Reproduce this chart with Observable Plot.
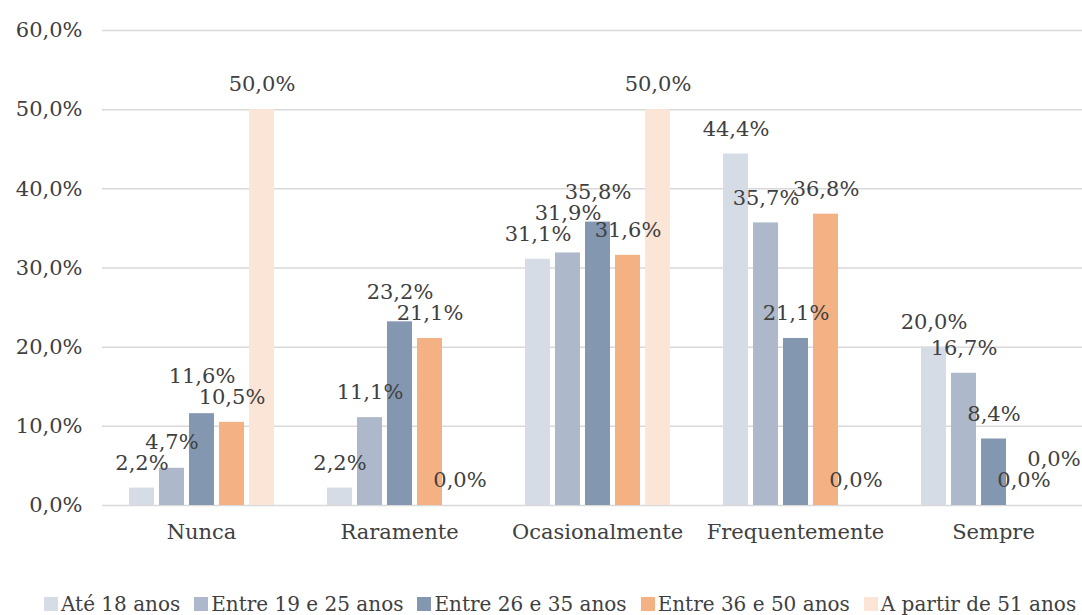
<!DOCTYPE html>
<html>
<head>
<meta charset="utf-8">
<script src="https://cdn.jsdelivr.net/npm/d3@7"></script>
<script src="https://cdn.jsdelivr.net/npm/@observablehq/plot@0.6"></script>
<style>
  html, body { margin: 0; padding: 0; background: #fff; width: 1082px; height: 615px; overflow: hidden; }
  #chart svg { display: block; overflow: hidden; }
  #legend {
    display: flex; align-items: center; white-space: nowrap;
    font-family: "DejaVu Serif", serif; font-size: 20px; color: #404040;
    padding-left: 44px; margin-top: 8px; height: 26px;
  }
  #legend .item { display: flex; align-items: center; margin-right: 14px; }
  #legend .sw { width: 14px; height: 14px; margin-right: 3px; flex: none; }
</style>
</head>
<body>
<div id="chart"></div>
<div id="legend"></div>
<script>
const categories = ["Nunca", "Raramente", "Ocasionalmente", "Frequentemente", "Sempre"];
const series = ["Até 18 anos", "Entre 19 e 25 anos", "Entre 26 e 35 anos", "Entre 36 e 50 anos", "A partir de 51 anos"];
const ate18 = [2.2, 2.2, 31.1, 44.4, 20.0];
const entre19e25 = [4.7, 11.1, 31.9, 35.7, 16.7];
const entre26e35 = [11.6, 23.2, 35.8, 21.1, 8.4];
const entre36e50 = [10.5, 21.1, 31.6, 36.8, 0.0];
const aPartir51 = [50.0, 0.0, 50.0, 0.0, 0.0];
const yTicks = [0, 10, 20, 30, 40, 50, 60];
const colors = ["#d6dce5", "#adb9ca", "#8497b0", "#f4b183", "#fbe5d6"];

const W = 1082, H = 583, MT = 30, MB = 78, FS = 21;
const pxPerUnit = (H - MT - MB) / 60;
const labelGap = 21 / pxPerUnit; // minimal vertical spacing between neighbouring labels (data units)

const seriesValues = [ate18, entre19e25, entre26e35, entre36e50, aPartir51];
const data = [];
categories.forEach((c, ci) => {
  const group = series.map((s, si) => ({category: c, series: s, value: seriesValues[si][ci]}));
  group.forEach(d => d.labelY = d.value);
  // simple collision avoidance between neighbouring labels: lift the taller one
  for (let i = 0; i < group.length - 1; i++) {
    const a = group[i], b = group[i + 1];
    if (Math.abs(a.labelY - b.labelY) < labelGap) {
      if (b.value >= a.value) b.labelY = a.labelY + labelGap;
      else a.labelY = b.labelY + labelGap;
    }
  }
  data.push(...group);
});
const fmt = d => d.toFixed(1).replace(".", ",") + "%";
const font = "DejaVu Serif, serif";

const chart = Plot.plot({
  width: W,
  height: H,
  marginLeft: 100,
  marginRight: 0,
  marginTop: MT,
  marginBottom: MB,
  style: {fontFamily: font, fontSize: FS + "px", color: "#404040", background: "#fff"},
  fx: {domain: categories, range: [100, 1094], paddingInner: 0, paddingOuter: 0, axis: "bottom", label: null, tickSize: 0, tickPadding: 19},
  x: {domain: series, paddingInner: 0.18, paddingOuter: 0.85, axis: null},
  y: {domain: [0, 60], ticks: yTicks, tickFormat: fmt, tickSize: 0, tickPadding: 20, label: null},
  color: {domain: series, range: colors},
  marks: [
    Plot.ruleY(yTicks, {y: d => d, stroke: "#d9d9d9", strokeWidth: 1.5}),
    Plot.barY(data, {fx: "category", x: "series", y: "value", fill: "series"}),
    Plot.text(data, {fx: "category", x: "series", y: "labelY", text: d => fmt(d.value), dy: -25, fill: "#404040", fontSize: FS})
  ]
});
document.getElementById("chart").appendChild(chart);

const legend = d3.select("#legend");
series.forEach((s, i) => {
  const item = legend.append("div").attr("class", "item");
  item.append("div").attr("class", "sw").style("background", colors[i]);
  item.append("span").text(s);
});
</script>
</body>
</html>
